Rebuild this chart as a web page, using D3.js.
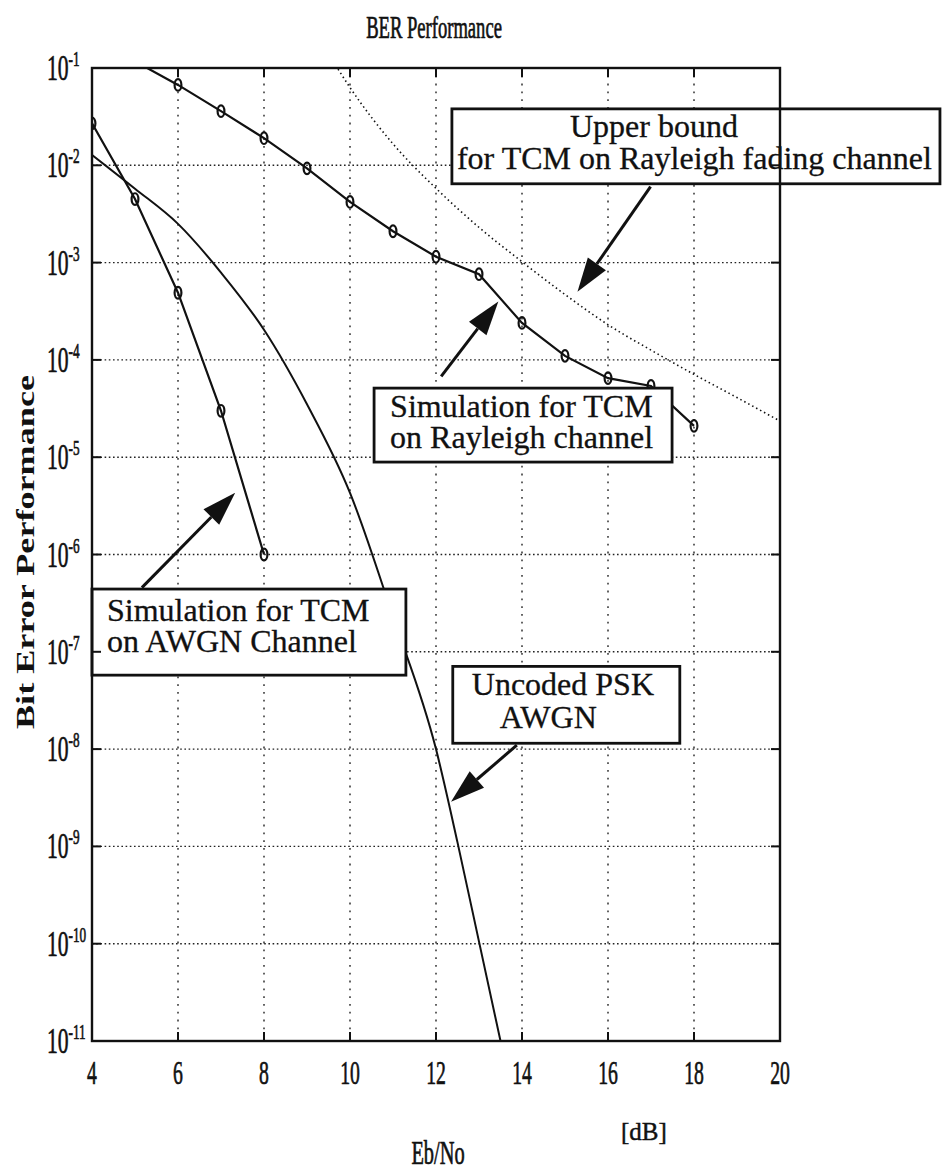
<!DOCTYPE html>
<html lang="en">
<head>
<meta charset="UTF-8">
<title>BER Performance</title>
<script src="https://d3js.org/d3.v7.min.js"></script>
<style>
  body { margin: 0; background: #fff; }
  svg { display: block; }
  text { font-family: "Liberation Serif", "Times New Roman", serif; fill: #111; stroke: #111; stroke-width: 0.45; }
</style>
</head>
<body>
<svg width="944" height="1172"></svg>
<script>
// values, Eb/No in dB and bit error rate
const xTicks = [4, 6, 8, 10, 12, 14, 16, 18, 20];
const yExps = [-1, -2, -3, -4, -5, -6, -7, -8, -9, -10, -11];

const awgnX = [4, 5, 6, 7, 8];
const awgnBer = [2.7e-2, 4.5e-3, 4.9e-4, 3.0e-5, 1.0e-6];

const rayX = [5, 6, 7, 8, 9, 10, 11, 12, 13, 14, 15, 16, 17, 18];
const rayBer = [1.17e-1, 6.7e-2, 3.6e-2, 1.9e-2, 9.3e-3, 4.2e-3, 2.1e-3, 1.15e-3,
                7.6e-4, 2.4e-4, 1.1e-4, 6.5e-5, 5.4e-5, 2.1e-5];

const uncodedX = [4, 5, 6, 7, 8, 9, 10, 11, 12, 12.5, 13, 13.5];
const uncodedBer = [1.28e-2, 5.75e-3, 2.5e-3, 7.9e-4, 2.04e-4, 3.5e-5, 4.3e-6,
                    2.3e-7, 1.0e-8, 1.1e-9, 1.05e-10, 1.0e-11];

const boundX = [9.5, 10, 11, 12, 13, 14, 15, 16, 17, 18, 19, 20];
const boundBer = [1.4e-1, 6.3e-2, 1.66e-2, 5.8e-3, 2.3e-3, 1.02e-3, 4.7e-4,
                  2.3e-4, 1.26e-4, 7.1e-5, 4.1e-5, 2.35e-5];

const svg = d3.select("svg");
const x = d3.scaleLinear().domain([4, 20]).range([92, 780]);
const y = d3.scaleLog().domain([1e-1, 1e-11]).range([68, 1041]);
const [x0, x1] = x.range(), [y0, y1] = y.range();

svg.append("defs").append("clipPath").attr("id", "plot")
  .append("rect").attr("x", x0).attr("y", y0).attr("width", x1 - x0).attr("height", y1 - y0);

// grid
const grid = svg.append("g").attr("stroke", "#222").attr("stroke-width", 1.4);
grid.selectAll(".vg").data(xTicks.slice(1, -1)).join("line")
  .attr("x1", d => x(d)).attr("x2", d => x(d)).attr("y1", y0).attr("y2", y1)
  .attr("stroke-dasharray", "1.8,6");
grid.selectAll(".hg").data(yExps.slice(1, -1)).join("line")
  .attr("y1", d => y(10 ** d)).attr("y2", d => y(10 ** d)).attr("x1", x0).attr("x2", x1)
  .attr("stroke-dasharray", "1.6,2.6");

const zip = (xs, vs) => xs.map((d, i) => [d, vs[i]]);
const linear = d3.line().x(d => x(d[0])).y(d => y(d[1]));
const smooth = d3.line().x(d => x(d[0])).y(d => y(d[1])).curve(d3.curveMonotoneX);

const plot = svg.append("g").attr("clip-path", "url(#plot)").attr("fill", "none").attr("stroke", "#111");

plot.append("path").attr("d", smooth(zip(boundX, boundBer)))
  .attr("stroke-width", 1.6).attr("stroke-dasharray", "1.5,3");
plot.append("path").attr("d", smooth(zip(uncodedX, uncodedBer))).attr("stroke-width", 2);
plot.append("path").attr("d", linear(zip(awgnX, awgnBer))).attr("stroke-width", 2.2);
plot.append("path").attr("d", linear(zip(rayX, rayBer))).attr("stroke-width", 2.2);

const inside = d => d[1] <= 1e-1 && d[1] >= 1e-11;
plot.selectAll(".mk")
  .data(zip(awgnX, awgnBer).concat(zip(rayX, rayBer)).filter(inside))
  .join("ellipse")
  .attr("cx", d => x(d[0])).attr("cy", d => y(d[1]))
  .attr("rx", 3.4).attr("ry", 5.8).attr("stroke-width", 2.2);

// annotation boxes and arrows, placed in data units
const notes = [
  { box: [12.37, 23.72, -1.42, -2.19],
    lines: [["Upper bound", 118, 28], ["for TCM on Rayleigh fading channel", 5, 60]],
    arrow: [16.99, -2.22, 15.29, -3.30] },
  { box: [10.56, 17.49, -4.29, -5.05],
    lines: [["Simulation for TCM", 16, 29], ["on Rayleigh channel", 16, 60]],
    arrow: [12.12, -4.17, 13.45, -3.40] },
  { box: [4.0, 11.30, -6.355, -7.24],
    lines: [["Simulation for TCM", 15, 32], ["on AWGN Channel", 15, 63]],
    arrow: [5.16, -6.34, 7.33, -5.365] },
  { box: [12.39, 17.67, -7.15, -7.94],
    lines: [["Uncoded PSK", 19, 29], ["AWGN", 47, 62]],
    arrow: [13.88, -7.96, 12.35, -8.54] }
];

const ann = svg.append("g");
notes.forEach(n => {
  const bx = x(n.box[0]), bw = x(n.box[1]) - bx;
  const by = y(10 ** n.box[2]), bh = y(10 ** n.box[3]) - by;
  ann.append("rect").attr("x", bx).attr("y", by).attr("width", bw).attr("height", bh)
    .attr("fill", "#fff").attr("stroke", "#111").attr("stroke-width", 2.8);
  n.lines.forEach(l => {
    ann.append("text").attr("x", bx + l[1]).attr("y", by + l[2])
      .attr("font-size", 32).style("stroke-width", 0.3).text(l[0]);
  });
  const ax = x(n.arrow[0]), ay = y(10 ** n.arrow[1]);
  const tx = x(n.arrow[2]), ty = y(10 ** n.arrow[3]);
  const a = Math.atan2(ty - ay, tx - ax), L = 34, W = 11;
  const bxh = tx - L * Math.cos(a), byh = ty - L * Math.sin(a);
  ann.append("line").attr("x1", ax).attr("y1", ay).attr("x2", bxh).attr("y2", byh)
    .attr("stroke", "#111").attr("stroke-width", 3);
  ann.append("path").attr("fill", "#111")
    .attr("d", `M${tx},${ty}L${bxh + W * Math.sin(a)},${byh - W * Math.cos(a)}` +
               `L${bxh - W * Math.sin(a)},${byh + W * Math.cos(a)}Z`);
});

// frame and tick marks
svg.append("rect").attr("x", x0).attr("y", y0).attr("width", x1 - x0).attr("height", y1 - y0)
  .attr("fill", "none").attr("stroke", "#111").attr("stroke-width", 2.4);
const tk = svg.append("g").attr("stroke", "#111").attr("stroke-width", 2);
xTicks.slice(1, -1).forEach(d => {
  tk.append("line").attr("x1", x(d)).attr("x2", x(d)).attr("y1", y1).attr("y2", y1 - 9);
  tk.append("line").attr("x1", x(d)).attr("x2", x(d)).attr("y1", y0).attr("y2", y0 + 9);
});
yExps.slice(1, -1).forEach(d => {
  tk.append("line").attr("y1", y(10 ** d)).attr("y2", y(10 ** d)).attr("x1", x0).attr("x2", x0 + 9);
  tk.append("line").attr("y1", y(10 ** d)).attr("y2", y(10 ** d)).attr("x1", x1).attr("x2", x1 - 9);
});

// tick labels, narrow Times look
yExps.forEach(d => {
  const t = svg.append("g").attr("transform", `translate(47,${y(10 ** d)}) scale(0.6,1)`)
    .append("text").attr("y", 12).style("stroke-width", 0.7);
  t.append("tspan").attr("font-size", 36).text("10");
  t.append("tspan").attr("font-size", 22).attr("dy", -14).text(String(d));
});
xTicks.forEach(d => {
  svg.append("g").attr("transform", `translate(${x(d)},1084) scale(0.58,1)`)
    .append("text").attr("text-anchor", "middle").attr("font-size", 34)
    .style("stroke-width", 0.7).text(d);
});

// titles
svg.append("g").attr("transform", "translate(434,38) scale(0.6,1)")
  .append("text").attr("text-anchor", "middle").attr("font-size", 31)
  .style("stroke-width", 0.7).text("BER Performance");
svg.append("g").attr("transform", "translate(438,1164) scale(0.6,1)")
  .append("text").attr("text-anchor", "middle").attr("font-size", 34)
  .style("stroke-width", 0.7).text("Eb/No");
svg.append("text").attr("x", 621).attr("y", 1140).attr("font-size", 25).text("[dB]");
svg.append("text").attr("transform", "translate(34,552) rotate(-90)")
  .attr("text-anchor", "middle").attr("font-family", "DejaVu Serif").attr("font-weight", "bold")
  .attr("font-size", 26).attr("textLength", 354).attr("lengthAdjust", "spacingAndGlyphs")
  .style("stroke-width", 0).text("Bit Error Performance");
</script>
</body>
</html>
